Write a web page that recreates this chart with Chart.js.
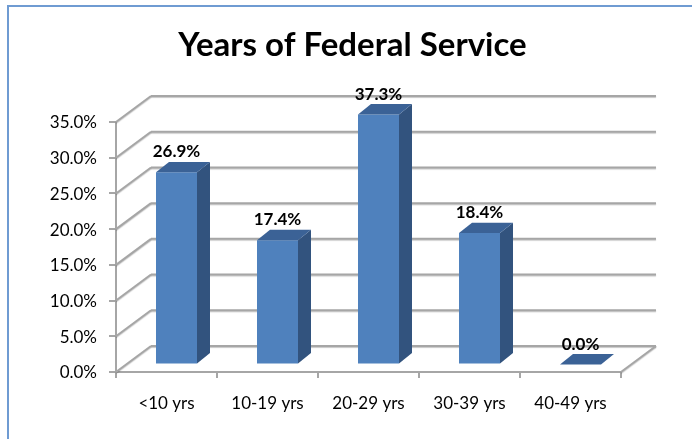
<!DOCTYPE html>
<html>
<head>
<meta charset="utf-8">
<script src="https://cdn.jsdelivr.net/npm/chart.js@4"></script>
<style>
  html, body { margin: 0; padding: 0; background: #fff; overflow: hidden; }
  #frame { position: absolute; left: 7px; top: 5px; width: 720px; height: 460px; border-left: 2px solid #6f9bd2; border-top: 2px solid #6f9bd2; }
  #chart { position: absolute; left: 0; top: 0; }
</style>
</head>
<body>
<div id="frame"></div>
<canvas id="chart" width="692" height="439"></canvas>
<script>
const categories = ['<10 yrs', '10-19 yrs', '20-29 yrs', '30-39 yrs', '40-49 yrs'];
const shares = [26.9, 17.4, 37.3, 18.4, 0.0];

const wall = { dx: 35, dy: -26 };      // how far the back wall sits behind the axes
const plane = { dx: 10, dy: -7.5 };    // where the bars' front faces sit
const depth = { dx: 13, dy: -10.4 };   // depth of one bar

function line(ctx, x1, y1, x2, y2) {
  ctx.beginPath();
  ctx.moveTo(x1, y1);
  ctx.lineTo(x2, y2);
  ctx.stroke();
}

function fillPoly(ctx, color, pts) {
  ctx.fillStyle = color;
  ctx.beginPath();
  pts.forEach((p, i) => i ? ctx.lineTo(p[0], p[1]) : ctx.moveTo(p[0], p[1]));
  ctx.closePath();
  ctx.fill();
}

// Fake 3D: the walls go behind the bars, the sides and tops go on after them
const fake3d = {
  id: 'fake3d',
  afterLayout(chart) {
    // title sits right of the canvas centre in the original
    chart.titleBlock.left += 27;
    chart.titleBlock.right += 27;
  },
  beforeDatasetsDraw(chart) {
    const { ctx, chartArea: area, scales } = chart;
    ctx.save();
    ctx.strokeStyle = '#a6a6a6';
    ctx.lineWidth = 2;
    ctx.shadowColor = 'rgba(0,0,0,0.22)';
    ctx.shadowBlur = 1;
    ctx.shadowOffsetY = 1;
    scales.y.ticks.forEach(t => {
      const y = scales.y.getPixelForValue(t.value);
      line(ctx, area.left, y, area.left + wall.dx, y + wall.dy);
      line(ctx, area.left + wall.dx, y + wall.dy, area.right + wall.dx, y + wall.dy);
    });
    line(ctx, area.right, area.bottom, area.right + wall.dx, area.bottom + wall.dy);
    ctx.restore();
    ctx.save();
    ctx.translate(plane.dx, plane.dy);
  },
  afterDatasetsDraw(chart) {
    const { ctx, chartArea: area } = chart;
    const bars = chart.getDatasetMeta(0).data;
    bars.forEach(bar => {
      const half = bar.width / 2;
      const l = bar.x - half, r = bar.x + half;
      const top = Math.max(bar.y, area.top);
      const base = bar.base;
      if (base - top > 0) {
        fillPoly(ctx, '#32537e', [[r, top], [r + depth.dx, top + depth.dy], [r + depth.dx, base + depth.dy], [r, base]]);
      }
      fillPoly(ctx, '#3b6296', [[l, top], [l + depth.dx, top + depth.dy], [r + depth.dx, top + depth.dy], [r, top]]);
    });
    ctx.restore();

    ctx.save();
    ctx.fillStyle = '#000';
    ctx.font = 'bold 17px Lato';
    ctx.textAlign = 'center';
    ctx.textBaseline = 'middle';
    bars.forEach((bar, i) => {
      const top = Math.max(bar.y, area.top);
      ctx.fillText(shares[i].toFixed(1) + '%', bar.x + plane.dx, top + plane.dy + depth.dy - 10);
    });
    ctx.restore();
  }
};

new Chart(document.getElementById('chart'), {
  type: 'bar',
  data: {
    labels: categories,
    datasets: [{
      data: shares,
      backgroundColor: '#4f81bd',
      barPercentage: 0.406,
      categoryPercentage: 1
    }]
  },
  plugins: [fake3d],
  options: {
    responsive: false,
    animation: false,
    layout: { padding: { left: 30, right: 71, top: 0, bottom: 0 } },
    plugins: {
      legend: { display: false },
      tooltip: { enabled: false },
      title: {
        display: true,
        text: 'Years of Federal Service',
        color: '#000',
        font: { family: 'Lato', size: 33, weight: 'bold', lineHeight: 1.2 },
        padding: { top: 26, bottom: 56.4 }
      }
    },
    scales: {
      x: {
        afterFit: s => { s.height = 67; },
        grid: { offset: true, drawOnChartArea: false, color: '#a6a6a6', lineWidth: 2, tickLength: 6 },
        border: { display: true, color: '#a6a6a6', width: 2 },
        ticks: { color: '#000', font: { family: 'Lato', size: 17 }, padding: 15, maxRotation: 0 }
      },
      y: {
        min: 0,
        max: 35,
        afterFit: s => { s.width = 86; },
        grid: { drawOnChartArea: false, color: '#a6a6a6', lineWidth: 2, tickLength: 7 },
        border: { display: true, color: '#a6a6a6', width: 2 },
        ticks: {
          stepSize: 5,
          color: '#000',
          font: { family: 'Lato', size: 17 },
          padding: 12,
          labelOffset: 1,
          callback: v => v.toFixed(1) + '%'
        }
      }
    }
  }
});
</script>
</body>
</html>
